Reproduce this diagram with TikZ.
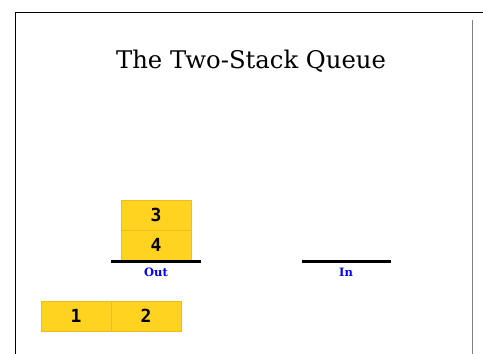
\documentclass[tikz,border=0pt]{standalone}
\usepackage{fontspec}
\setmainfont{DejaVu Serif}
\newfontfamily\numfont{DejaVu Sans Mono}
\definecolor{gold}{HTML}{FFD320}
\definecolor{goldedge}{HTML}{E8BE20}
\definecolor{lbl}{HTML}{0000FF}
\tikzset{
  cell/.style={draw=goldedge, line width=0.6pt, fill=gold, minimum width=70pt, minimum height=30pt, inner sep=0pt, font=\numfont\bfseries\fontsize{18}{18}\selectfont},
  base/.style={line width=3pt, black},
  lab/.style={text=lbl, font=\bfseries\fontsize{11.5}{11.5}\selectfont, inner sep=0pt}
}
\begin{document}
\begin{tikzpicture}[x=1pt,y=-1pt]
\useasboundingbox (0,0) rectangle (483,354);
\draw[line width=1pt] (15,354) -- (15,12.5) -- (483,12.5);
\draw[gray, line width=1pt] (472,20) -- (472,354);
\node (title) at (251,61) {\fontsize{24.3}{24.3}\selectfont The Two-Stack Queue};
\node[cell] (c3) at (156,215) {3};
\node[cell] (c4) at (156,245) {4};
\coordinate (o1) at (111,261);
\coordinate (o2) at (201,261);
\draw[base] (o1) -- (o2);
\node[lab] (out) at (156,272) {Out};
\coordinate (i1) at (302,261);
\coordinate (i2) at (391,261);
\draw[base] (i1) -- (i2);
\node[lab] (in) at (346,272) {In};
\node[cell] (c1) at (76,316) {1};
\node[cell] (c2) at (146,316) {2};
\end{tikzpicture}
\end{document}
